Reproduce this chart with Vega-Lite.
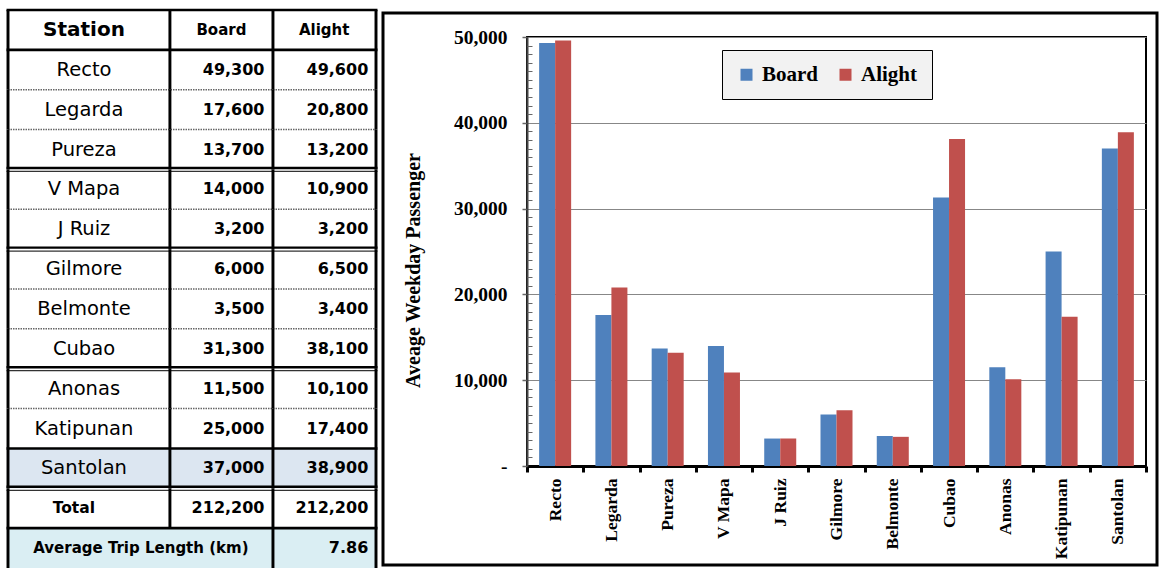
{
  "$schema": "https://vega.github.io/schema/vega-lite/v6.json",
  "width": 619,
  "height": 429,
  "autosize": "none",
  "padding": {"left": 527, "top": 37, "right": 18, "bottom": 102},
  "background": "white",
  "config": {"view": {"stroke": "#000", "strokeWidth": 2}},
  "datasets": {
    "stations": [
      {"station": "Recto", "Board": 49300, "Alight": 49600},
      {"station": "Legarda", "Board": 17600, "Alight": 20800},
      {"station": "Pureza", "Board": 13700, "Alight": 13200},
      {"station": "V Mapa", "Board": 14000, "Alight": 10900},
      {"station": "J Ruiz", "Board": 3200, "Alight": 3200},
      {"station": "Gilmore", "Board": 6000, "Alight": 6500},
      {"station": "Belmonte", "Board": 3500, "Alight": 3400},
      {"station": "Cubao", "Board": 31300, "Alight": 38100},
      {"station": "Anonas", "Board": 11500, "Alight": 10100},
      {"station": "Katipunan", "Board": 25000, "Alight": 17400},
      {"station": "Santolan", "Board": 37000, "Alight": 38900}
    ],
    "rows": [
      {"row": "Station"}, {"row": "Recto"}, {"row": "Legarda"}, {"row": "Pureza"},
      {"row": "V Mapa"}, {"row": "J Ruiz"}, {"row": "Gilmore"}, {"row": "Belmonte"},
      {"row": "Cubao"}, {"row": "Anonas"}, {"row": "Katipunan"}, {"row": "Santolan"},
      {"row": "Total"}, {"row": "Average Trip Length (km)"}
    ],
    "header": [{"row": "Station", "c1": "Station", "c2": "Board", "c3": "Alight"}],
    "summary": [{"row": "Total", "label": "Total", "Board": 212200, "Alight": 212200}],
    "atl": [{"row": "Average Trip Length (km)", "label": "Average Trip Length (km)", "value": 7.86}]
  },
  "layer": [
    {
      "layer": [
        {
          "data": {"values": [{"row": "Santolan"}]},
          "mark": {"type": "rect", "color": "#dce6f1"},
          "encoding": {
            "y": {"field": "row", "type": "nominal", "axis": null,
                  "scale": {"type": "band", "domain": ["Station","Recto","Legarda","Pureza","V Mapa","J Ruiz","Gilmore","Belmonte","Cubao","Anonas","Katipunan","Santolan","Total","Average Trip Length (km)"], "range": [-27, 531], "paddingInner": 0, "paddingOuter": 0}},
            "x": {"datum": 0, "type": "quantitative", "axis": null, "scale": {"domain": [0, 100], "range": [-519, -151], "nice": false, "zero": false}},
            "x2": {"datum": 100}
          }
        },
        {
          "data": {"values": [{"row": "Average Trip Length (km)"}]},
          "mark": {"type": "rect", "color": "#daeef3"},
          "encoding": {
            "y": {"field": "row", "type": "nominal"},
            "x": {"datum": 0, "type": "quantitative"},
            "x2": {"datum": 100}
          }
        },
        {
          "data": {"values": [{"row": "Legarda"}, {"row": "Pureza"}, {"row": "J Ruiz"}, {"row": "Belmonte"}, {"row": "Cubao"}, {"row": "Katipunan"}]},
          "mark": {"type": "rule", "color": "#666", "strokeWidth": 1.5, "strokeDash": [1.5, 1]},
          "encoding": {
            "y": {"field": "row", "type": "nominal", "bandPosition": 0},
            "x": {"datum": 0, "type": "quantitative"},
            "x2": {"datum": 100}
          }
        },
        {
          "data": {"values": [{"row": "Station"}, {"row": "Recto"}, {"row": "Santolan"}, {"row": "Average Trip Length (km)"}]},
          "mark": {"type": "rule", "color": "#000", "strokeWidth": 2.6},
          "encoding": {
            "y": {"field": "row", "type": "nominal", "bandPosition": 0},
            "x": {"datum": -0.4, "type": "quantitative"},
            "x2": {"datum": 100.4}
          }
        },
        {
          "data": {"values": [{"row": "V Mapa"}, {"row": "Gilmore"}, {"row": "Anonas"}, {"row": "Total"}]},
          "mark": {"type": "rule", "color": "#000", "strokeWidth": 2.4, "yOffset": -1.5},
          "encoding": {
            "y": {"field": "row", "type": "nominal", "bandPosition": 0},
            "x": {"datum": -0.4, "type": "quantitative"},
            "x2": {"datum": 100.4}
          }
        },
        {
          "data": {"values": [{"row": "V Mapa"}, {"row": "Gilmore"}, {"row": "Anonas"}, {"row": "Total"}]},
          "mark": {"type": "rule", "color": "#333", "strokeWidth": 1.2, "yOffset": 2},
          "encoding": {
            "y": {"field": "row", "type": "nominal", "bandPosition": 0},
            "x": {"datum": -0.4, "type": "quantitative"},
            "x2": {"datum": 100.4}
          }
        },
        {
          "data": {"name": "rows"},
          "mark": {"type": "rect", "color": "#000"},
          "encoding": {
            "y": {"field": "row", "type": "nominal"},
            "x": {"datum": -0.4, "type": "quantitative"},
            "x2": {"datum": 0.4}
          }
        },
        {
          "data": {"name": "rows"},
          "transform": [{"filter": "datum.row !== 'Average Trip Length (km)'"}],
          "mark": {"type": "rect", "color": "#000"},
          "encoding": {
            "y": {"field": "row", "type": "nominal"},
            "x": {"datum": 43.6, "type": "quantitative"},
            "x2": {"datum": 44.4}
          }
        },
        {
          "data": {"name": "rows"},
          "mark": {"type": "rect", "color": "#000"},
          "encoding": {
            "y": {"field": "row", "type": "nominal"},
            "x": {"datum": 71.6, "type": "quantitative"},
            "x2": {"datum": 72.4}
          }
        },
        {
          "data": {"name": "rows"},
          "mark": {"type": "rect", "color": "#000"},
          "encoding": {
            "y": {"field": "row", "type": "nominal"},
            "x": {"datum": 99.6, "type": "quantitative"},
            "x2": {"datum": 100.4}
          }
        },
        {
          "data": {"name": "header"},
          "mark": {"type": "text", "font": "DejaVu Sans", "fontWeight": "bold", "fontSize": 20, "align": "center", "baseline": "middle", "color": "#000"},
          "encoding": {
            "y": {"field": "row", "type": "nominal"},
            "x": {"datum": 20.65, "type": "quantitative"},
            "text": {"field": "c1"}
          }
        },
        {
          "data": {"name": "header"},
          "mark": {"type": "text", "font": "DejaVu Sans", "fontWeight": "bold", "fontSize": 15, "align": "center", "baseline": "middle", "color": "#000"},
          "encoding": {
            "y": {"field": "row", "type": "nominal"},
            "x": {"datum": 58, "type": "quantitative"},
            "text": {"field": "c2"}
          }
        },
        {
          "data": {"name": "header"},
          "mark": {"type": "text", "font": "DejaVu Sans", "fontWeight": "bold", "fontSize": 15, "align": "center", "baseline": "middle", "color": "#000"},
          "encoding": {
            "y": {"field": "row", "type": "nominal"},
            "x": {"datum": 85.9, "type": "quantitative"},
            "text": {"field": "c3"}
          }
        },
        {
          "data": {"name": "stations"},
          "mark": {"type": "text", "font": "DejaVu Sans", "fontSize": 19.5, "align": "center", "baseline": "middle", "color": "#000"},
          "encoding": {
            "y": {"field": "station", "type": "nominal"},
            "x": {"datum": 20.65, "type": "quantitative"},
            "text": {"field": "station"}
          }
        },
        {
          "data": {"name": "stations"},
          "mark": {"type": "text", "font": "DejaVu Sans", "fontWeight": "bold", "fontSize": 16, "align": "right", "baseline": "middle", "color": "#000"},
          "encoding": {
            "y": {"field": "station", "type": "nominal"},
            "x": {"datum": 69.7, "type": "quantitative"},
            "text": {"field": "Board", "format": ","}
          }
        },
        {
          "data": {"name": "stations"},
          "mark": {"type": "text", "font": "DejaVu Sans", "fontWeight": "bold", "fontSize": 16, "align": "right", "baseline": "middle", "color": "#000"},
          "encoding": {
            "y": {"field": "station", "type": "nominal"},
            "x": {"datum": 97.9, "type": "quantitative"},
            "text": {"field": "Alight", "format": ","}
          }
        },
        {
          "data": {"name": "summary"},
          "mark": {"type": "text", "font": "DejaVu Sans", "fontWeight": "bold", "fontSize": 15.5, "align": "center", "baseline": "middle", "color": "#000"},
          "encoding": {
            "y": {"field": "row", "type": "nominal"},
            "x": {"datum": 17.9, "type": "quantitative"},
            "text": {"field": "label"}
          }
        },
        {
          "data": {"name": "summary"},
          "mark": {"type": "text", "font": "DejaVu Sans", "fontWeight": "bold", "fontSize": 16, "align": "right", "baseline": "middle", "color": "#000"},
          "encoding": {
            "y": {"field": "row", "type": "nominal"},
            "x": {"datum": 69.7, "type": "quantitative"},
            "text": {"field": "Board", "format": ","}
          }
        },
        {
          "data": {"name": "summary"},
          "mark": {"type": "text", "font": "DejaVu Sans", "fontWeight": "bold", "fontSize": 16, "align": "right", "baseline": "middle", "color": "#000"},
          "encoding": {
            "y": {"field": "row", "type": "nominal"},
            "x": {"datum": 97.9, "type": "quantitative"},
            "text": {"field": "Alight", "format": ","}
          }
        },
        {
          "data": {"name": "atl"},
          "mark": {"type": "text", "font": "DejaVu Sans", "fontWeight": "bold", "fontSize": 15, "align": "center", "baseline": "middle", "color": "#000"},
          "encoding": {
            "y": {"field": "row", "type": "nominal"},
            "x": {"datum": 36.1, "type": "quantitative"},
            "text": {"field": "label"}
          }
        },
        {
          "data": {"name": "atl"},
          "mark": {"type": "text", "font": "DejaVu Sans", "fontWeight": "bold", "fontSize": 16, "align": "right", "baseline": "middle", "color": "#000"},
          "encoding": {
            "y": {"field": "row", "type": "nominal"},
            "x": {"datum": 97.9, "type": "quantitative"},
            "text": {"field": "value", "format": ".2f"}
          }
        }
      ]
    },
    {
      "data": {"values": [{"frame": "chart"}]},
      "mark": {"type": "rect", "fillOpacity": 0, "stroke": "#000", "strokeWidth": 3},
      "encoding": {
        "x": {"datum": 0, "type": "quantitative", "axis": null, "scale": {"domain": [0, 100], "range": [-144, 630], "nice": false, "zero": false}},
        "x2": {"datum": 100},
        "y": {"datum": 0, "type": "quantitative", "axis": null, "scale": {"domain": [0, 100], "range": [-24, 528], "nice": false, "zero": false}},
        "y2": {"datum": 100}
      }
    },
    {
      "data": {"name": "stations"},
      "transform": [{"fold": ["Board", "Alight"], "as": ["series", "value"]}],
      "encoding": {
        "x": {
          "field": "station", "type": "nominal",
          "sort": ["Recto","Legarda","Pureza","V Mapa","J Ruiz","Gilmore","Belmonte","Cubao","Anonas","Katipunan","Santolan"],
          "scale": {"paddingInner": 0, "paddingOuter": 0},
          "axis": {
            "orient": "bottom",
            "title": null, "tickBand": "extent", "labelAngle": -90, "labelAlign": "right", "labelBaseline": "middle",
            "labelFont": "Liberation Serif", "labelFontWeight": "bold", "labelFontSize": 17.5, "labelColor": "#000",
            "labelPadding": 6, "tickSize": 6, "tickWidth": 3, "tickColor": "#000",
            "domainColor": "#000", "domainWidth": 3, "grid": false
          }
        },
        "xOffset": {"field": "series", "type": "nominal", "sort": ["Board", "Alight"], "scale": {"paddingInner": 0, "paddingOuter": 0.758}},
        "color": {
          "field": "series", "type": "nominal", "sort": ["Board", "Alight"],
          "scale": {"domain": ["Board", "Alight"], "range": ["#4f81bd", "#c0504d"]},
          "legend": {
            "orient": "none", "legendX": 195, "legendY": 13, "direction": "horizontal", "title": null,
            "fillColor": "#f2f2f2", "strokeColor": "#000", "padding": 14, "symbolType": "square",
            "symbolSize": 144, "symbolStrokeWidth": 0, "labelFont": "Liberation Serif", "labelFontWeight": "bold",
            "labelFontSize": 21, "labelColor": "#000", "labelOffset": 5, "columnPadding": 16
          }
        }
      },
      "layer": [
        {
          "mark": {"type": "bar"},
          "encoding": {
            "y": {
              "field": "value", "type": "quantitative",
              "scale": {"domain": [0, 50000], "nice": false},
              "axis": {
                "orient": "left",
                "values": [0, 10000, 20000, 30000, 40000, 50000],
                "labelExpr": "datum.value === 0 ? '-' : format(datum.value, ',')",
                "labelFlush": false,
                "grid": true, "gridColor": "#878787", "gridWidth": 1.2,
                "domainColor": "#444", "domainWidth": 2,
                "tickColor": "#666", "tickWidth": 1.5, "tickSize": 5,
                "labelFont": "Liberation Serif", "labelFontWeight": "bold", "labelFontSize": 19.5, "labelColor": "#000", "labelPadding": 15,
                "title": "Aveage Weekday Passenger", "titleFont": "Liberation Serif", "titleFontSize": 20, "titleFontWeight": "bold",
                "titleColor": "#000", "titlePadding": 30, "titleY": 233
              }
            }
          }
        },
        {
          "mark": {"type": "bar", "opacity": 0},
          "encoding": {
            "y": {
              "field": "value", "type": "quantitative",
              "axis": {
                "orient": "left",
                "values": [1000,2000,3000,4000,5000,6000,7000,8000,9000,11000,12000,13000,14000,15000,16000,17000,18000,19000,21000,22000,23000,24000,25000,26000,27000,28000,29000,31000,32000,33000,34000,35000,36000,37000,38000,39000,41000,42000,43000,44000,45000,46000,47000,48000,49000],
                "tickSize": -5, "tickColor": "#666", "tickWidth": 1, "labels": false, "domain": false, "grid": false, "title": null, "zindex": 1
              }
            }
          }
        }
      ],
      "resolve": {"axis": {"y": "independent"}}
    }
  ],
  "resolve": {"scale": {"x": "independent", "y": "independent"}}
}
